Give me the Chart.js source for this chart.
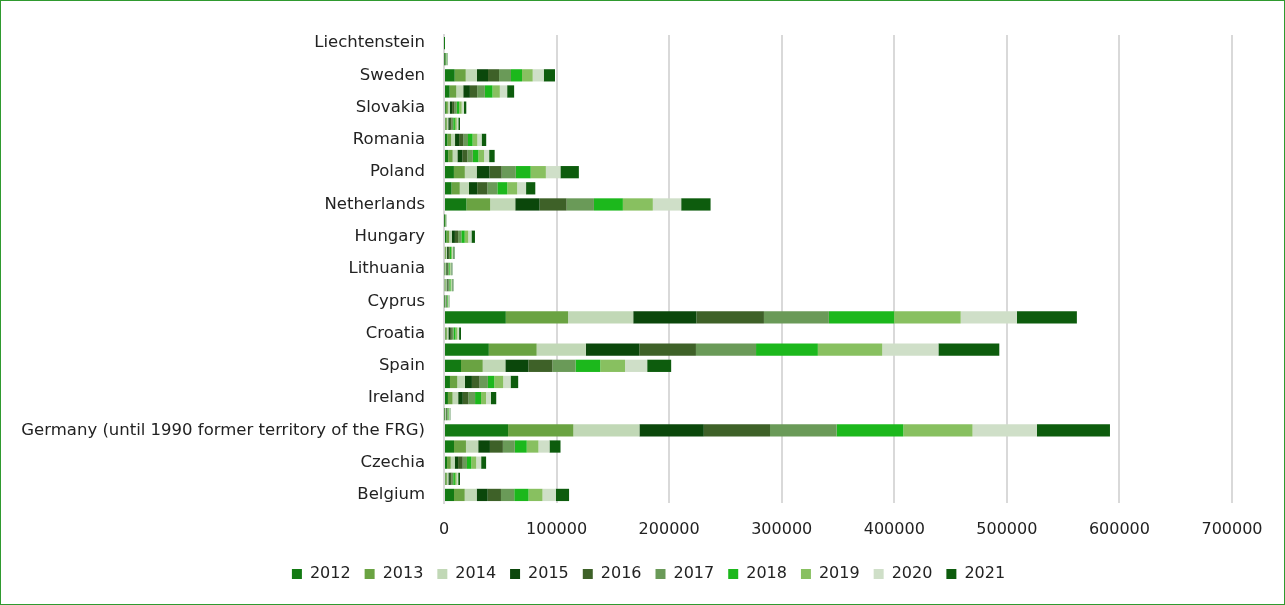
<!DOCTYPE html>
<html>
<head>
<meta charset="utf-8">
<script src="https://cdn.jsdelivr.net/npm/chart.js@4/dist/chart.umd.min.js"></script>
<style>
  html,body{margin:0;padding:0;background:#fff;}
  #wrap{width:1285px;height:605px;box-sizing:border-box;border:1px solid #2f9a2f;position:relative;}
  canvas{display:block;}
</style>
</head>
<body>
<div id="wrap"><canvas id="c"></canvas></div>
<script>
'use strict';

// categories, bottom to top (Eurostat order)
var countries=['Belgium','Bulgaria','Czechia','Denmark','Germany (until 1990 former territory of the FRG)','Estonia','Ireland','Greece','Spain','France','Croatia','Italy','Cyprus','Latvia','Lithuania','Luxembourg','Hungary','Malta','Netherlands','Austria','Poland','Portugal','Romania','Slovenia','Slovakia','Finland','Sweden','Iceland','Liechtenstein'];

var years=['2012','2013','2014','2015','2016','2017','2018','2019','2020','2021'];

var v2012=[8900,1200,2700,8900,56900,450,3500,5300,15100,39800,1200,54900,400,700,600,800,2200,180,19900,6700,8800,3700,3000,1200,1600,5000,9500,250,20];
var v2013=[9500,1300,3300,10600,58000,500,4100,6500,19300,42500,1300,55300,450,750,650,850,2400,200,21100,7300,9700,4000,3300,1300,1800,5900,9800,270,20];
var v2014=[10600,1400,3500,10900,58700,550,5000,6800,20100,43700,1400,57900,450,800,700,900,2500,200,22300,8200,10500,4200,3500,1300,1900,6200,10000,280,20];
var v2015=[9800,1300,3000,10400,57200,550,4100,6200,20500,47500,1500,56100,450,800,700,900,2600,220,21600,7300,11400,4300,3600,1400,1900,5900,9800,290,20];
var v2016=[11800,1500,4100,11500,58800,550,5000,6800,21300,50300,1500,60000,500,850,750,950,2800,230,24000,9100,10800,4600,3900,1500,2100,6500,9800,310,20];
var v2017=[11800,1500,3800,10600,59200,600,5900,7400,20500,53400,1600,57700,500,900,800,950,2900,230,24300,8800,12600,4800,4000,1500,2100,6800,10600,320,20];
var v2018=[12700,1500,3800,10600,59200,600,5300,5600,22000,54900,1700,58000,500,900,800,1000,3000,240,25700,8800,13200,5000,4100,1500,2100,6800,9800,320,20];
var v2019=[12400,1500,4400,10400,61500,600,4400,8000,22000,57200,1700,59100,500,900,800,1000,3100,240,26600,8800,13500,5000,4200,1600,2200,6500,9500,320,20];
var v2020=[11800,1400,4400,9800,57200,550,4400,6500,19700,49900,1500,49900,450,800,750,900,2900,210,25200,7900,12900,4500,3800,1400,2000,6500,9800,300,20];
var v2021=[11800,1600,4400,9800,64900,650,4700,6800,21300,54100,1700,53300,500,900,850,1050,3100,250,26100,8200,16400,4900,4100,1500,2100,6200,10000,340,20];

var series=[v2012,v2013,v2014,v2015,v2016,v2017,v2018,v2019,v2020,v2021];
var colors=['#137a13','#6aa342','#c1d8b6','#0b470b','#3e6128','#6a9a58','#1cb81c','#88c060','#cfdfc8','#0d5c0d'];

var xTicks=[0,100000,200000,300000,400000,500000,600000,700000];

var FONT='"DejaVu Sans", Verdana, sans-serif';

var datasets=[];
for(var i=0;i<years.length;i++){
  datasets.push({label:years[i],data:series[i],backgroundColor:colors[i],borderWidth:0,
    barPercentage:0.76,categoryPercentage:1});
}

var chart=new Chart(document.getElementById('c'),{
  type:'bar',
  data:{labels:countries,datasets:datasets},
  options:{
    indexAxis:'y',
    responsive:true,maintainAspectRatio:false,animation:false,
    layout:{padding:{left:20,right:52,top:34,bottom:12}},
    plugins:{
      legend:{position:'bottom',labels:{boxWidth:10,boxHeight:10,padding:14,color:'#222',font:{family:FONT,size:16}}},
      tooltip:{enabled:false}
    },
    scales:{
      x:{stacked:true,min:0,max:700000,
        afterBuildTicks:function(s){s.ticks=xTicks.map(function(v){return{value:v};});},
        afterFit:function(s){s.height=49;},
        grid:{color:'#d9d9d9',lineWidth:2,drawTicks:false},
        border:{display:false},
        ticks:{padding:17,color:'#222',font:{family:FONT,size:16},callback:function(v){return String(v);}}},
      y:{stacked:true,reverse:true,
        afterFit:function(s){s.width=423;},
        grid:{display:false},
        border:{color:'#d9d9d9',width:2},
        ticks:{autoSkip:false,padding:11,color:'#222',font:{family:FONT,size:16.5},
          callback:function(v,idx){return idx%2===0?countries[idx]:'';}}}
    }
  }
});

// legend in the original sits a little right of centre
var legDraw=chart.legend.draw;
chart.legend.draw=function(){
  var ctx=this.ctx;ctx.save();ctx.translate(22,0);legDraw.apply(this,arguments);ctx.restore();
};
chart.draw();
</script>
</body>
</html>
